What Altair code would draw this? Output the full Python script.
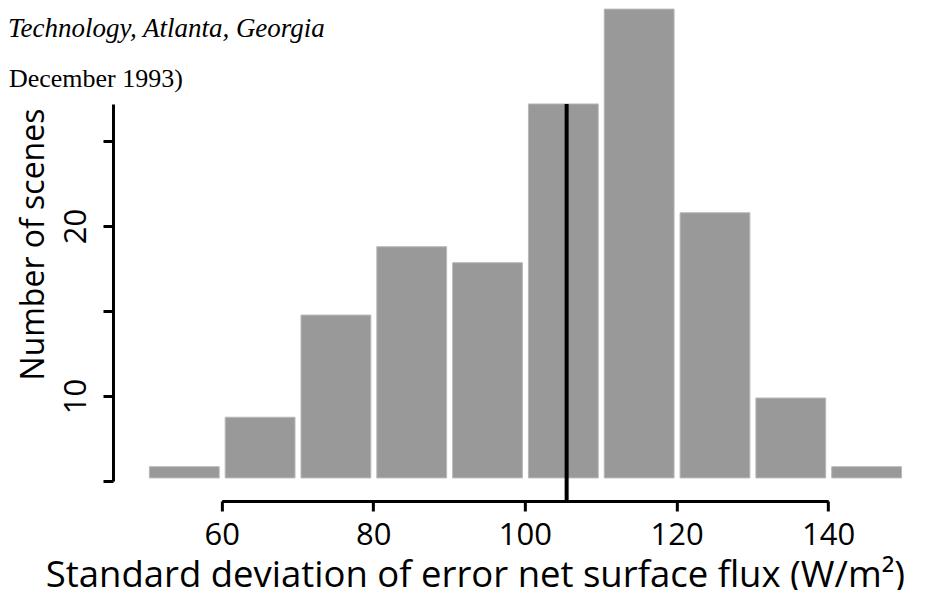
import altair as alt
import pandas as pd

# ---- data ----
bin_start = [50, 60, 70, 80, 90, 100, 110, 120, 130, 140]
bin_end = [60, 70, 80, 90, 100, 110, 120, 130, 140, 150]
scenes = [5.84, 8.75, 14.76, 18.78, 17.84, 27.18, 32.76, 20.78, 9.88, 5.84]
bar_base = 5.18
mean_sd = [105.5]
line_top = 27.18            # where the scan's header mask cuts the line/axis
x_ticks = [60, 80, 100, 120, 140]
y_ticks = [5, 10, 15, 20, 25]
y_labelled = [10, 20]
header_lines = ["Technology, Atlanta, Georgia", "December 1993)"]
x_title = "Standard deviation of error net surface flux (W/m²)"
y_title = "Number of scenes"

# ---- geometry ----
X_DOMAIN = [50, 150]
W = 758.2
H = 493
PX_PER_Y = 17.0
Y_MIN = 5 - 20 / PX_PER_Y
Y_MAX = Y_MIN + H / PX_PER_Y
Y_DOMAIN = [Y_MIN, Y_MAX]


def x_px(v):
    return (v - X_DOMAIN[0]) / (X_DOMAIN[1] - X_DOMAIN[0]) * W


def y_px(v):
    return H - (v - Y_MIN) * PX_PER_Y


FONT = "Open Sans"

xs = alt.Scale(domain=X_DOMAIN, nice=False, zero=False)
ys = alt.Scale(domain=Y_DOMAIN, nice=False, zero=False)

df = pd.DataFrame({"start": bin_start, "end": bin_end, "n": scenes,
                   "base": [bar_base] * len(scenes)})

bars = alt.Chart(df).mark_bar(
    color="#999999", binSpacing=6, stroke="#b8b8b8", strokeWidth=1
).encode(
    x=alt.X("start:Q", bin="binned", scale=xs, axis=None),
    x2="end:Q",
    y=alt.Y("n:Q", scale=ys, axis=None),
    y2="base:Q",
)

rule = alt.Chart(pd.DataFrame({"sd": mean_sd, "top": [line_top], "bot": [Y_MIN]})).mark_rule(
    color="black", strokeWidth=4
).encode(
    x=alt.X("sd:Q", scale=xs, axis=None),
    y=alt.Y("top:Q", scale=ys, axis=None),
    y2="bot:Q",
)

x_axis_layer = alt.Chart(pd.DataFrame({"t": x_ticks})).mark_point(opacity=0).encode(
    x=alt.X(
        "t:Q",
        scale=alt.Scale(domain=[x_ticks[0], x_ticks[-1]],
                        range=[x_px(x_ticks[0]), x_px(x_ticks[-1])],
                        nice=False, zero=False),
        axis=alt.Axis(
            orient="bottom", values=x_ticks, grid=False,
            domainColor="black", domainWidth=3, tickColor="black", tickWidth=3,
            tickSize=10, labelFont=FONT, labelFontSize=31, labelColor="black",
            labelBaseline="alphabetic", labelPadding=34, labelFlush=False,
            labelOverlap=False,
            title=x_title, titleFont=FONT, titleFontSize=36.5, titleFontWeight="normal",
            titleColor="black", titleBaseline="alphabetic", titleAlign="center",
            titleX=467 - 137.9, titleY=86,
        ),
    ),
)

y_axis_layer = alt.Chart(pd.DataFrame({"t": y_ticks})).mark_point(opacity=0).encode(
    y=alt.Y(
        "t:Q",
        scale=alt.Scale(domain=[y_ticks[0], line_top],
                        range=[y_px(y_ticks[0]), y_px(line_top)],
                        nice=False, zero=False),
        axis=alt.Axis(
            orient="left", values=y_ticks, grid=False, offset=32.9,
            domainColor="black", domainWidth=3, tickColor="black", tickWidth=3,
            tickSize=10, labelFont=FONT, labelFontSize=31, labelColor="black",
            labelAngle=270, labelAlign="center", labelBaseline="alphabetic",
            labelPadding=17, labelFlush=False, labelOverlap=False,
            labelExpr="indexof(" + str(y_labelled) + ", datum.value) >= 0 ? datum.label : ''",
            title=y_title, titleFont=FONT, titleFontSize=32, titleFontWeight="normal",
            titleColor="black", titleAngle=270, titleBaseline="alphabetic",
            titleAlign="center", titleX=-69, titleY=236,
        ),
    ),
)

hdr1 = alt.Chart(pd.DataFrame({"t": [header_lines[0]]})).mark_text(
    font="Liberation Serif", fontStyle="italic", fontSize=27, align="left",
    baseline="alphabetic", color="black"
).encode(text="t:N", x=alt.value(-137.9), y=alt.value(29))

hdr2 = alt.Chart(pd.DataFrame({"t": [header_lines[1]]})).mark_text(
    font="Liberation Serif", fontSize=26, align="left",
    baseline="alphabetic", color="black"
).encode(text="t:N", x=alt.value(-136.9), y=alt.value(79))

chart = alt.layer(bars, rule, x_axis_layer, y_axis_layer, hdr1, hdr2).resolve_scale(
    x="independent", y="independent"
).properties(
    width=W, height=H,
    autosize=alt.AutoSizeParams(type="none"),
    padding={"left": 137.9, "top": 0, "right": 14, "bottom": 89},
    background="white",
).configure_view(stroke=None)

chart.save("out.html", embed_options={"renderer": "svg", "actions": False})
